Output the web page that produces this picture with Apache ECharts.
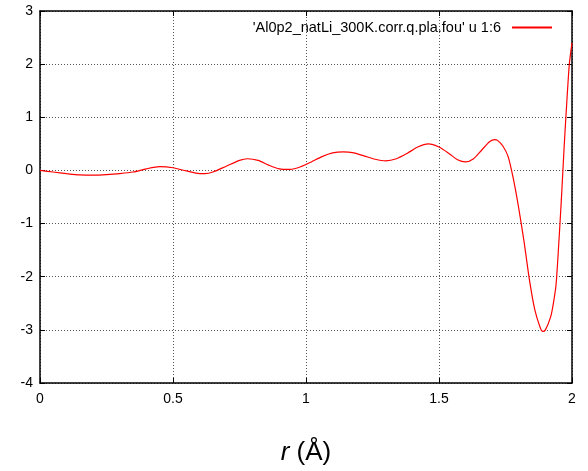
<!DOCTYPE html>
<html>
<head>
<meta charset="utf-8">
<script src="https://cdn.jsdelivr.net/npm/echarts@6/dist/echarts.min.js"></script>
<style>
  html, body { margin: 0; padding: 0; background: #fff; }
  #chart { width: 588px; height: 471px; }
</style>
</head>
<body>
<div id="chart"></div>
<script>
// r values (Angstrom) and the fou column 6
const rValues = [
  0.00, 0.05, 0.10, 0.15, 0.20, 0.25, 0.30, 0.35, 0.40, 0.45,
  0.50, 0.55, 0.60, 0.62, 0.65, 0.70, 0.75, 0.78, 0.82, 0.86,
  0.90, 0.94, 0.98, 1.02, 1.06, 1.10, 1.14, 1.18, 1.22, 1.26,
  1.30, 1.34, 1.38, 1.42, 1.46, 1.50, 1.54, 1.57, 1.60, 1.63,
  1.66, 1.69, 1.71, 1.72, 1.74, 1.76, 1.78, 1.80, 1.82, 1.84,
  1.86, 1.88, 1.89, 1.90, 1.92, 1.93, 1.94, 1.95, 1.96, 1.97,
  1.98, 1.99, 2.00
];
const fouValues = [
  0.00, -0.03, -0.06, -0.085, -0.09, -0.08, -0.06, -0.03, 0.03, 0.07,
  0.05, -0.01, -0.06, -0.06, -0.03, 0.08, 0.19, 0.22, 0.19, 0.10,
  0.03, 0.02, 0.07, 0.16, 0.26, 0.33, 0.35, 0.33, 0.27, 0.21,
  0.18, 0.22, 0.32, 0.44, 0.50, 0.44, 0.31, 0.20, 0.16, 0.22,
  0.38, 0.54, 0.58, 0.565, 0.46, 0.26, -0.17, -0.72, -1.35, -2.06,
  -2.62, -2.95, -3.03, -3.00, -2.75, -2.50, -2.15, -1.40, -0.55, 0.40,
  1.25, 2.00, 2.40
];
const xTicks = { min: 0, max: 2, interval: 0.5 };
const yTicks = { min: -4, max: 3, interval: 1 };
const seriesName = "'Al0p2_natLi_300K.corr.q.pla.fou' u 1:6";

var data = [];
for (var i = 0; i < rValues.length; i++) {
  data.push([rValues[i], fouValues[i]]);
}

const font = 'Liberation Sans, Arial, Helvetica, sans-serif';
const axisLine = { show: true, onZero: false, lineStyle: { color: '#000', width: 1.5 } };
const tick = { show: true, inside: true, length: 5, lineStyle: { color: '#000', width: 1 } };
const grid = { show: true, lineStyle: { color: '#555', width: 1, type: [1, 2] } };

var chart = echarts.init(document.getElementById('chart'), null, { renderer: 'canvas' });
chart.setOption({
  animation: false,
  backgroundColor: '#fff',
  color: ['#ff0000'],
  grid: { left: 40, right: 16, top: 11, bottom: 88 },
  legend: {
    data: [seriesName],
    right: 30,
    top: 15,
    align: 'right',
    itemWidth: 40,
    itemHeight: 1.5,
    textStyle: { fontFamily: font, fontSize: 14.5, color: '#000', padding: [0, 6, 0, 0] }
  },
  xAxis: [{
    type: 'value',
    min: xTicks.min, max: xTicks.max, interval: xTicks.interval,
    position: 'bottom',
    axisLine: axisLine,
    axisTick: tick,
    splitLine: grid,
    axisLabel: { color: '#000', fontFamily: font, fontSize: 14, margin: 9 },
    name: '{i|r} (Å)',
    nameLocation: 'middle',
    nameGap: 57,
    nameTextStyle: {
      color: '#000', fontFamily: font, fontSize: 26,
      rich: { i: { fontStyle: 'italic', fontFamily: font, fontSize: 26, color: '#000' } }
    }
  }, {
    type: 'value',
    min: xTicks.min, max: xTicks.max, interval: xTicks.interval,
    position: 'top',
    axisLine: axisLine,
    axisTick: tick,
    splitLine: { show: false },
    axisLabel: { show: false }
  }],
  yAxis: [{
    type: 'value',
    min: yTicks.min, max: yTicks.max, interval: yTicks.interval,
    position: 'left',
    axisLine: axisLine,
    axisTick: tick,
    splitLine: grid,
    axisLabel: { color: '#000', fontFamily: font, fontSize: 14, margin: 7 }
  }, {
    type: 'value',
    min: yTicks.min, max: yTicks.max, interval: yTicks.interval,
    position: 'right',
    axisLine: axisLine,
    axisTick: tick,
    splitLine: { show: false },
    axisLabel: { show: false }
  }],
  series: [{
    name: seriesName,
    type: 'line',
    xAxisIndex: 0,
    yAxisIndex: 0,
    data: data,
    symbol: 'none',
    legendIcon: 'rect',
    smooth: 0.25,
    lineStyle: { color: '#ff0000', width: 1.2 },
    itemStyle: { color: '#ff0000' }
  }]
});
</script>
</body>
</html>
